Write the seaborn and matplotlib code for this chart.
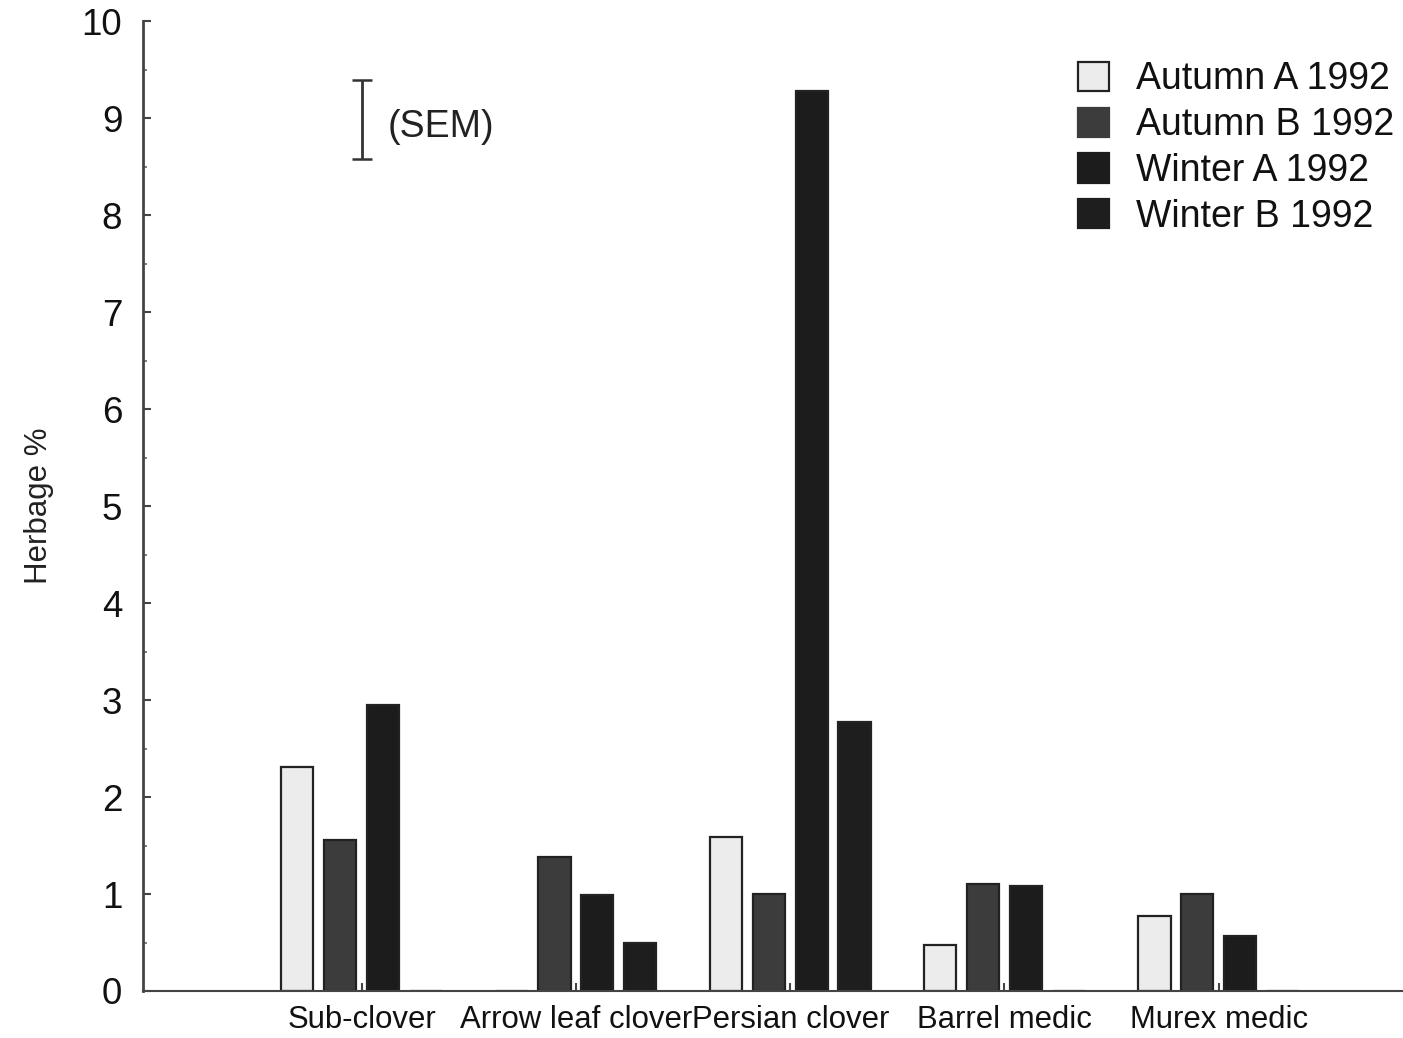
import matplotlib
matplotlib.use("Agg")
import matplotlib.pyplot as plt
import seaborn as sns
import pandas as pd
from matplotlib.ticker import MultipleLocator
from matplotlib.patches import Patch

categories = ["Sub-clover", "Arrow leaf clover", "Persian clover", "Barrel medic", "Murex medic"]
series = ["Autumn A 1992", "Autumn B 1992", "Winter A 1992", "Winter B 1992"]
autumn_a = [2.31, 0.0, 1.59, 0.47, 0.77]
autumn_b = [1.56, 1.38, 1.00, 1.10, 1.00]
winter_a = [2.95, 0.99, 9.28, 1.08, 0.57]
winter_b = [0.0, 0.50, 2.77, 0.0, 0.0]
sem_mid = 8.99
sem_half = 0.41
yticks = list(range(0, 11))

rows = []
for s, vals in zip(series, [autumn_a, autumn_b, winter_a, winter_b]):
    for c, v in zip(categories, vals):
        rows.append({"Species": c, "Series": s, "Herbage": v})
df = pd.DataFrame(rows)

sns.set_theme(style="white")
plt.rcParams["font.family"] = ["Liberation Sans", "DejaVu Sans"]

fig = plt.figure(figsize=(14.03, 10.38), dpi=100)
ax = fig.add_axes([0.102, 0.0453, 0.898, 0.934])

palette = {"Autumn A 1992": "#ececec", "Autumn B 1992": "#3c3c3c",
           "Winter A 1992": "#1c1c1c", "Winter B 1992": "#1e1e1e"}
sns.barplot(data=df, x="Species", y="Herbage", hue="Series", order=categories,
            hue_order=series, palette=palette, width=0.8, gap=0.25,
            edgecolor="#222222", linewidth=1.6, saturation=1, ax=ax, legend=False)

# SEM bar
ax.errorbar([0.0], [sem_mid], yerr=[sem_half], fmt="none", ecolor="#333333",
            elinewidth=2, capsize=7, capthick=1.8)
ax.text(0.12, sem_mid - 0.08, "(SEM)", fontsize=27, va="center", ha="left", color="#222222")

ax.set_xlim(-1.02, 4.86)
ax.set_ylim(0, 10)
ax.set_yticks(yticks)
ax.yaxis.set_minor_locator(MultipleLocator(0.5))
ax.tick_params(axis="y", which="major", direction="in", length=6, width=1.5,
               labelsize=26.5, pad=15, left=True, colors="#444444", labelcolor="#111111")
ax.tick_params(axis="y", which="minor", direction="in", length=3, width=1.2, left=True, colors="#666666")
ax.tick_params(axis="x", direction="in", length=6, width=1.5, labelsize=22.4, pad=10,
               bottom=True, colors="#444444", labelcolor="#111111")
ax.set_xlabel("")
ax.set_ylabel("Herbage %", fontsize=22.5, labelpad=20, color="#222222")

for side in ["top", "right"]:
    ax.spines[side].set_visible(False)
ax.spines["left"].set_color("#444444")
ax.spines["left"].set_linewidth(2)
ax.spines["bottom"].set_color("#444444")
ax.spines["bottom"].set_linewidth(1.5)

handles = [Patch(facecolor=palette[s], edgecolor="#222222" if i == 0 else palette[s],
                 linewidth=1.6) for i, s in enumerate(series)]
ax.legend(handles, series, loc="upper right", bbox_to_anchor=(1.011, 0.982), frameon=False,
          fontsize=27, handlelength=0.82, handleheight=0.82, handletextpad=0.72,
          labelspacing=0.26, borderaxespad=0.2, labelcolor="#111111")

fig.savefig("out.png", dpi=100, facecolor="white")
